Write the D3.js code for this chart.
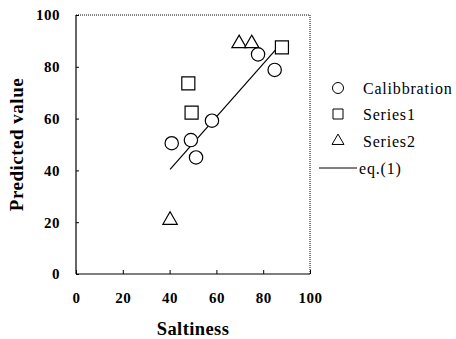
<!DOCTYPE html>
<html>
<head>
<meta charset="utf-8">
<script src="https://cdn.jsdelivr.net/npm/d3@7"></script>
<style>
  body { margin: 0; background: #fff; }
  svg { display: block; }
</style>
</head>
<body>
<svg width="456" height="339"></svg>
<script>
// data
const calibX = [40.9, 49.1, 51.3, 58.1, 77.8, 84.9];
const calibY = [50.5, 51.7, 45.0, 59.2, 84.8, 78.8];
const series1X = [48.0, 49.4, 88.0];
const series1Y = [73.6, 62.3, 87.5];
const series2X = [40.2, 69.7, 75.1];
const series2Y = [20.8, 89.0, 89.0];
const eqX = [40.2, 88.0];
const eqY = [40.4, 89.3];
const xTicks = [0, 20, 40, 60, 80, 100];
const yTicks = [0, 20, 40, 60, 80, 100];
const legendNames = ["Calibbration", "Series1", "Series2", "eq.(1)"];

const FONT = "Liberation Serif";
const svg = d3.select("svg").attr("font-family", FONT);
const m = {left: 76, right: 310, top: 15, bottom: 274};

const x = d3.scaleLinear().domain([0, 100]).range([m.left, m.right]);
const y = d3.scaleLinear().domain([0, 100]).range([m.bottom, m.top]);

// frame: solid left/bottom, dotted top/right
const frame = [
    [m.left, m.top, m.left, m.bottom, null],
    [m.left, m.bottom, m.right, m.bottom, null],
    [m.left, m.top, m.right, m.top, "1,1"],
    [m.right, m.top, m.right, m.bottom, "1,1"]
];
frame.forEach(f => {
    svg.append("line").attr("x1", f[0]).attr("y1", f[1]).attr("x2", f[2]).attr("y2", f[3])
        .attr("stroke", "#000").attr("stroke-width", f[4] ? 1 : 1.2)
        .attr("stroke-dasharray", f[4]);
});

// x axis: inward ticks
const xAxis = svg.append("g").attr("transform", `translate(0,${m.bottom})`)
    .call(d3.axisBottom(x).tickValues(xTicks).tickSizeInner(-4).tickSizeOuter(0).tickPadding(18))
    .attr("font-family", FONT);
xAxis.select(".domain").remove();
xAxis.selectAll("line").attr("stroke", "#000");
xAxis.selectAll("text").attr("font-size", 15).attr("font-weight", "bold")
    .attr("letter-spacing", 0.5).attr("fill", "#000");

// y axis: inward ticks
const yAxis = svg.append("g").attr("transform", `translate(${m.left},0)`)
    .call(d3.axisLeft(y).tickValues(yTicks).tickSizeInner(-3).tickSizeOuter(0).tickPadding(16))
    .attr("font-family", FONT);
yAxis.select(".domain").remove();
yAxis.selectAll("line").attr("stroke", "#000");
yAxis.selectAll("text").attr("font-size", 15).attr("font-weight", "bold")
    .attr("letter-spacing", 0.5).attr("fill", "#000");

// axis titles
svg.append("text").attr("x", (m.left + m.right) / 2).attr("y", 335)
    .attr("text-anchor", "middle").attr("font-size", 18.5).attr("font-weight", "bold")
    .attr("letter-spacing", 0.4)
    .text("Saltiness");
svg.append("text").attr("transform", `translate(23,${(m.top + m.bottom) / 2}) rotate(-90)`)
    .attr("text-anchor", "middle").attr("font-size", 19).attr("font-weight", "bold")
    .attr("letter-spacing", 0.5)
    .text("Predicted value");

// fitted line
const line = d3.line().x(d => x(d[0])).y(d => y(d[1]));
svg.append("path").datum(d3.zip(eqX, eqY)).attr("d", line)
    .attr("fill", "none").attr("stroke", "#000").attr("stroke-width", 1.2);

// markers
const sym = {
    circle: d3.symbol().type(d3.symbolCircle).size(140),
    square: d3.symbol().type(d3.symbolSquare).size(170),
    triangle: d3.symbol().type(d3.symbolTriangle).size(90)
};

function drawPoints(xs, ys, s) {
    svg.append("g").selectAll("path").data(d3.zip(xs, ys)).join("path")
        .attr("d", s)
        .attr("transform", d => `translate(${x(d[0])},${y(d[1])})`)
        .attr("fill", "#fff").attr("stroke", "#000").attr("stroke-width", 1.2);
}
drawPoints(calibX, calibY, sym.circle);
drawPoints(series1X, series1Y, sym.square);
drawPoints(series2X, series2Y, sym.triangle);

// legend
const lg = svg.append("g");
const legY = [88, 114, 141, 168];
const legSym = [
    d3.symbol().type(d3.symbolCircle).size(95),
    d3.symbol().type(d3.symbolSquare).size(100),
    d3.symbol().type(d3.symbolTriangle).size(62)
];
legSym.forEach((s, i) => {
    lg.append("path").attr("d", s).attr("transform", `translate(338,${legY[i]})`)
        .attr("fill", "#fff").attr("stroke", "#000").attr("stroke-width", 1);
});
lg.append("line").attr("x1", 319).attr("x2", 357).attr("y1", legY[3]).attr("y2", legY[3])
    .attr("stroke", "#000").attr("stroke-width", 1);
lg.selectAll("text").data(legendNames).join("text")
    .attr("x", (d, i) => i === 3 ? 359 : 363)
    .attr("y", (d, i) => legY[i])
    .attr("dy", "0.35em").attr("font-size", 16).attr("letter-spacing", 0.8)
    .text(d => d);
</script>
</body>
</html>
